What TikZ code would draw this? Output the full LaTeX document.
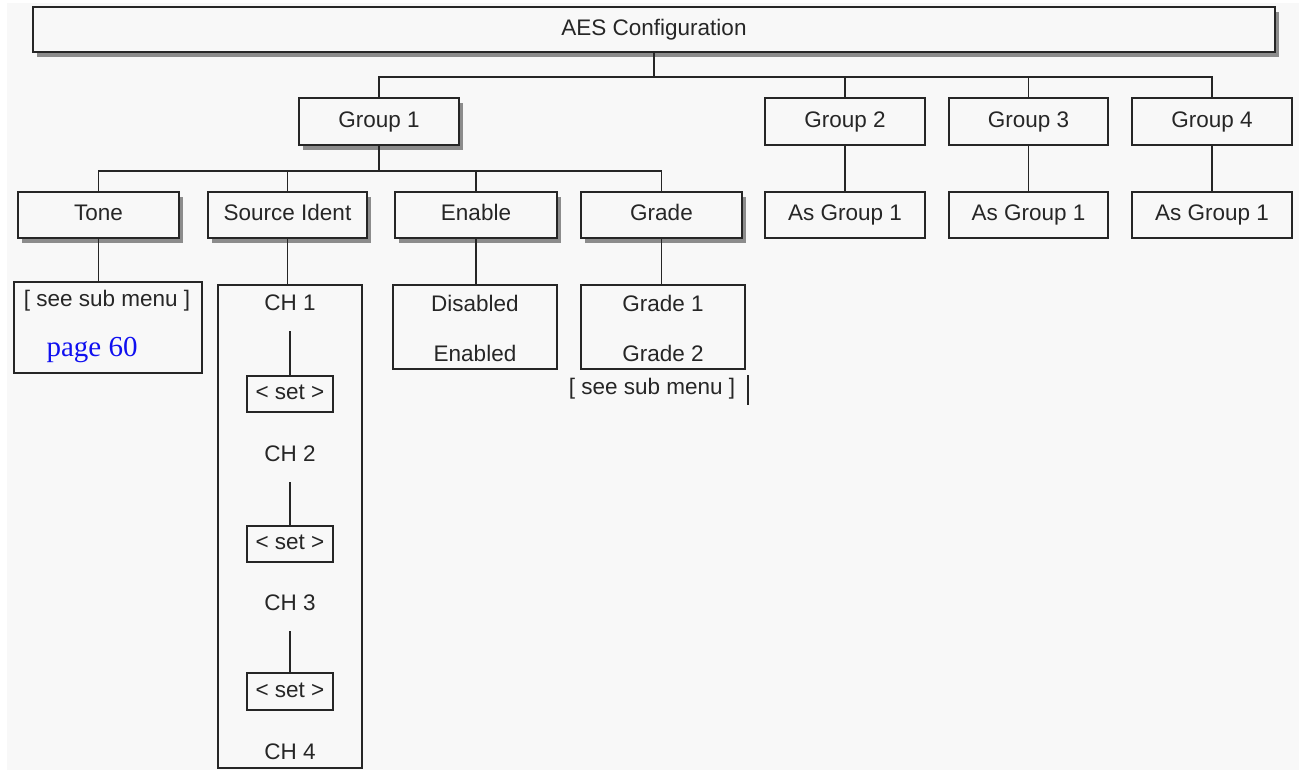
\documentclass[tikz,border=0pt]{standalone}
\usepackage{fontspec}
\setmainfont{Liberation Sans}
\newfontfamily\pagefont{Liberation Serif}
\usetikzlibrary{shadows}
\definecolor{paper}{HTML}{F8F8F8}
\definecolor{linkblue}{HTML}{1010F0}
\tikzset{
  x=1pt, y=-1pt,
  every node/.style={font=\fontsize{22.5}{26}\selectfont, text=black!85},
  menubox/.style={draw=black!85, line width=1.8pt, fill=paper, inner sep=0pt, text height=16pt, text depth=4.5pt},
  shadowbox/.style={menubox, drop shadow={shadow xshift=4pt, shadow yshift=-5pt, fill=black!45, opacity=1}},
  wire/.style={draw=black!85, line width=1.8pt},
  chlabel/.style={inner sep=0pt, minimum height=56pt},
}
\begin{document}
\begin{tikzpicture}
\useasboundingbox (0,0) rectangle (1299,770);
\fill[white] (0,0) rectangle (1299,770);
\fill[paper] (7,3) rectangle (1299,770);

% top level
\node[shadowbox, minimum width=1242pt, minimum height=45pt] (aes) at (654,29.5) {AES Configuration};

% groups
\node[shadowbox, minimum width=160pt, minimum height=47pt] (g1) at (379,121.5) {Group 1};
\node[menubox, minimum width=160pt, minimum height=47pt] (g2) at (845,121.5) {Group 2};
\node[menubox, minimum width=159pt, minimum height=47pt] (g3) at (1028.5,121.5) {Group 3};
\node[menubox, minimum width=160pt, minimum height=47pt] (g4) at (1212,121.5) {Group 4};

% group 1 items
\node[shadowbox, minimum width=161pt, minimum height=46pt] (tone) at (98.5,215) {Tone};
\node[shadowbox, minimum width=159pt, minimum height=46pt] (src) at (287.5,215) {Source Ident};
\node[shadowbox, minimum width=162pt, minimum height=46pt] (enable) at (476,215) {Enable};
\node[shadowbox, minimum width=161pt, minimum height=46pt] (grade) at (661.5,215) {Grade};

% groups 2-4 items
\node[menubox, minimum width=160pt, minimum height=46pt] (as2) at (845,215) {As Group 1};
\node[menubox, minimum width=159pt, minimum height=46pt] (as3) at (1028.5,215) {As Group 1};
\node[menubox, minimum width=160pt, minimum height=46pt] (as4) at (1212,215) {As Group 1};

% Tone sub menu
\node[menubox, minimum width=188pt, minimum height=91pt] (tonesub) at (108,327.5) {};
\node[inner sep=0pt] (tonesee) at (107,301) {[ see sub menu ]};
\node[inner sep=0pt, anchor=base, text=linkblue, font=\pagefont\fontsize{29}{32}\selectfont] (tonepage) at (92,356) {page 60};

% Source Ident sub menu
\node[menubox, minimum width=144pt, minimum height=483pt] (srcsub) at (290,526.5) {};
\node[chlabel] (ch1) at (290,303) {CH 1};
\node[chlabel] (ch2) at (290,454) {CH 2};
\node[chlabel] (ch3) at (290,603) {CH 3};
\node[inner sep=0pt] (ch4) at (290,752) {CH 4};
\node[menubox, minimum width=86pt, minimum height=36pt] (set1) at (290,394) {< set >};
\node[menubox, minimum width=86pt, minimum height=36pt] (set2) at (290,544) {< set >};
\node[menubox, minimum width=86pt, minimum height=37pt] (set3) at (290,691.5) {< set >};

% Enable sub menu
\node[menubox, minimum width=164pt, minimum height=84pt] (ensub) at (475,327) {};
\node[inner sep=0pt] (dis) at (475,303) {Disabled};
\node[inner sep=0pt] (ena) at (475,353) {Enabled};

% Grade sub menu
\node[menubox, minimum width=164pt, minimum height=84pt] (gradesub) at (663,327) {};
\node[inner sep=0pt] (gr1) at (663,303) {Grade 1};
\node[inner sep=0pt] (gr2) at (663,353) {Grade 2};
\node[inner sep=0pt] (gradesee) at (652,389) {[ see sub menu ]};
\coordinate (bartop) at (748,375);
\coordinate (barbot) at (748,405);
\draw[line width=1.3pt, black!85] (bartop) -- (barbot);

% connectors: top level to groups
\draw[wire] (aes.south) -- ++(0,24) coordinate (bus0);
\draw[wire] (g1.north) |- (bus0);
\draw[wire] (g2.north) |- (bus0);
\draw[wire] (g3.north) |- (bus0);
\draw[wire] (g4.north) |- (bus0);

% connectors: group 1 to its items
\draw[wire] (g1.south) -- ++(0,25) coordinate (bus1);
\draw[wire] (tone.north) |- (bus1);
\draw[wire] (src.north) |- (bus1);
\draw[wire] (enable.north) |- (bus1);
\draw[wire] (grade.north) |- (bus1);

% connectors: groups 2-4
\draw[wire] (g2.south) -- (as2.north);
\draw[wire] (g3.south) -- (as3.north);
\draw[wire] (g4.south) -- (as4.north);

% connectors: items to sub menus
\draw[wire] (tone.south) -- (tone.south |- tonesub.north);
\draw[wire] (src.south) -- (src.south |- srcsub.north);
\draw[wire] (enable.south) -- (enable.south |- ensub.north);
\draw[wire] (grade.south) -- (grade.south |- gradesub.north);

% channel connectors
\draw[wire] (ch1.south) -- (set1.north);
\draw[wire] (ch2.south) -- (set2.north);
\draw[wire] (ch3.south) -- (set3.north);
\end{tikzpicture}
\end{document}
